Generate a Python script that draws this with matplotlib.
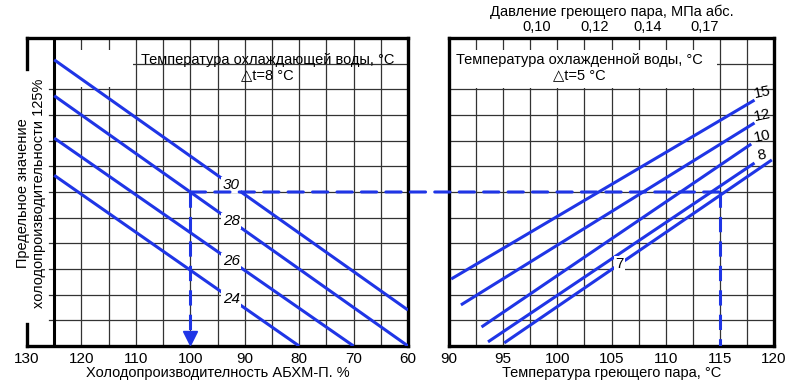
import numpy as np
import matplotlib
matplotlib.use('Agg')
import matplotlib.pyplot as plt
from matplotlib.patches import Rectangle, ConnectionPatch

plt.rcParams['font.family'] = ['Liberation Sans', 'DejaVu Sans']

# left panel: cooling water temperature lines (x = capacity %, y = grid units)
cool_temps = ['30', '28', '26', '24']
cool_x0 = [125, 125, 125, 125]
cool_y0 = [11.15, 9.75, 8.1, 6.65]
cool_x1 = [60, 60, 70, 80]
cool_y1 = [1.4, 0.0, 0.0, 0.0]

# right panel: chilled water temperature lines (x = steam temperature, C)
chill_temps = ['15', '12', '10', '8', '7']
chill_x0 = [90.2, 91.1, 93.0, 93.6, 95.1]
chill_y0 = [2.61, 1.60, 0.74, 0.16, 0.12]
chill_x1 = [118.2, 118.2, 117.9, 118.2, 119.8]
chill_y1 = [9.58, 8.69, 7.87, 7.13, 7.25]

# top scale: steam pressure
press_pos = [98.1, 103.4, 108.3, 113.6]
press_labels = ['0,10', '0,12', '0,14', '0,17']

left_ticks = [130, 120, 110, 100, 90, 80, 70, 60]
right_ticks = [90, 95, 100, 105, 110, 115, 120]

# example reading
ex_cap = 100
ex_level = 6.0
ex_steam = 115

blue = '#1f35e6'
W, H = 800, 383

fig = plt.figure(figsize=(8, 3.83), dpi=100)
ax1 = fig.add_axes([27/W, 37/H, 381/W, 308/H])
ax2 = fig.add_axes([449/W, 37/H, 325/W, 308/H])

# ---- left panel
ax1.set_xlim(130, 60)
ax1.set_ylim(0, 12)
for x in np.arange(120, 60, -5):
    ax1.plot([x, x], [0, 12], color='#333333', lw=0.9, zorder=1)
ax1.plot([125, 125], [0, 12], color='black', lw=2.2, zorder=3)
for y in range(1, 11):
    ax1.plot([126, 60], [y, y], color='#333333', lw=0.9, zorder=1)
ax1.plot([130, 60], [11, 11], color='#333333', lw=0.9, zorder=1)
ax1.add_patch(Rectangle((110.6, 10.1), 110.6 - 61.0, 1.45, facecolor='white',
                        edgecolor='none', zorder=2))
ax1.text(85.8, 10.85, 'Температура охлаждающей воды, °C\n△t=8 °C', ha='center',
         va='center', fontsize=10.5, linespacing=1.15, zorder=4)

for i in range(len(cool_temps)):
    ax1.plot([cool_x0[i], cool_x1[i]], [cool_y0[i], cool_y1[i]], color=blue,
             lw=2.2, zorder=3, solid_capstyle='butt')
    lx = 92.5
    ly = np.interp(lx, [cool_x1[i], cool_x0[i]], [cool_y1[i], cool_y0[i]])
    ax1.text(lx, ly, cool_temps[i], ha='center', va='center', fontsize=11,
             style='italic', zorder=5,
             bbox=dict(facecolor='white', edgecolor='none', pad=1.0))

ax1.plot([ex_cap, ex_cap], [ex_level, 0.45], color=blue, lw=2.2,
         dashes=(5, 3), zorder=4)
ax1.plot([ex_cap], [0.3], marker='v', color=blue, markersize=10, zorder=4,
         clip_on=False)

ax1.set_xticks(left_ticks)
ax1.set_yticks([])
ax1.tick_params(axis='x', length=0, labelsize=11, pad=4)
ax1.set_xlabel('Холодопроизводителность АБХМ-П. %', fontsize=10.5, labelpad=0)
for s in ['top', 'bottom', 'right']:
    ax1.spines[s].set_linewidth(2.4)
ax1.spines['left'].set_visible(False)
ax1.plot([130, 130], [10.8, 12], color='black', lw=2.4, clip_on=False, zorder=5)
ax1.plot([130, 130], [0, 0.85], color='black', lw=2.4, clip_on=False, zorder=5)

# ---- right panel
ax2.set_xlim(90, 120)
ax2.set_ylim(0, 12)
for x in np.arange(92.5, 120, 2.5):
    ax2.plot([x, x], [0, 12], color='#333333', lw=0.9, zorder=1)
for y in range(1, 12):
    ax2.plot([90, 120], [y, y], color='#333333', lw=0.9, zorder=1)
ax2.add_patch(Rectangle((90, 10.05), 24.7, 1.5, facecolor='white',
                        edgecolor='none', zorder=2))
ax2.text(102.0, 10.85, 'Температура охлажденной воды, °C\n△t=5 °C', ha='center',
         va='center', fontsize=10.5, linespacing=1.15, zorder=4)

for i in range(len(chill_temps)):
    ax2.plot([chill_x0[i], chill_x1[i]], [chill_y0[i], chill_y1[i]], color=blue,
             lw=2.2, zorder=3, solid_capstyle='butt')
    if chill_temps[i] == '7':
        lx = 105.7
        ly = np.interp(lx, [chill_x0[i], chill_x1[i]], [chill_y0[i], chill_y1[i]])
        ax2.text(lx, ly, chill_temps[i], ha='center', va='center', fontsize=11,
                 zorder=5, bbox=dict(facecolor='white', edgecolor='none', pad=1.0))
    else:
        ax2.text(118.9, chill_y1[i] + 0.3, chill_temps[i], ha='center',
                 va='center', fontsize=11, rotation=12, zorder=5)

ax2.plot([ex_steam, ex_steam], [ex_level, 0], color=blue, lw=2.2,
         dashes=(5, 3), zorder=4)
con = ConnectionPatch(xyA=(ex_cap, ex_level), coordsA=ax1.transData,
                      xyB=(ex_steam, ex_level), coordsB=ax2.transData,
                      color=blue, lw=2.2, linestyle=(0, (5, 3)), zorder=4)
fig.add_artist(con)

ax2.set_xticks(right_ticks)
ax2.set_yticks([])
ax2.tick_params(axis='x', length=0, labelsize=11, pad=4)
ax2.set_xlabel('Температура греющего пара, °C', fontsize=10.5, labelpad=0)
for s in ax2.spines.values():
    s.set_linewidth(2.4)

top = ax2.secondary_xaxis('top')
top.set_xticks(press_pos, labels=press_labels)
top.tick_params(length=0, labelsize=10.5, pad=3)
top.spines['top'].set_visible(False)
top.set_xlabel('Давление греющего пара, МПа абс.', fontsize=10.5, labelpad=3)

fig.text(31/W, 1 - 193/H, 'Предельное значение\nхолодопроизводительности 125%',
         rotation=90, ha='center', va='center', fontsize=10.5,
         multialignment='center', linespacing=1.2)

fig.savefig('out.png', dpi=100)
